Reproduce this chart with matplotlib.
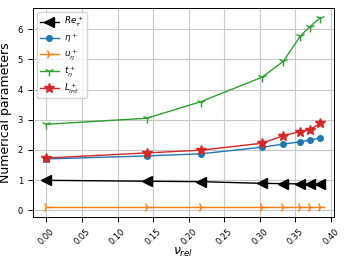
import matplotlib
matplotlib.use("Agg")
import matplotlib.pyplot as plt

nu_rel = [0.0, 0.141, 0.217, 0.303, 0.333, 0.357, 0.370, 0.385]
re_tau = [0.99, 0.96, 0.945, 0.89, 0.88, 0.87, 0.865, 0.86]
eta = [1.70, 1.80, 1.87, 2.09, 2.19, 2.27, 2.33, 2.39]
u_eta = [0.09, 0.09, 0.09, 0.09, 0.09, 0.09, 0.09, 0.09]
t_eta = [2.85, 3.05, 3.60, 4.41, 4.94, 5.78, 6.08, 6.39]
l_int = [1.73, 1.90, 1.99, 2.22, 2.47, 2.61, 2.67, 2.88]

fig = plt.figure(figsize=(3.49, 2.62), dpi=100)
ax = fig.add_axes([0.094, 0.172, 0.863, 0.797])

lw = 1.0
ax.plot(nu_rel, re_tau, marker='<', color='black', lw=lw, markersize=7, label=r'$Re_\tau^+$')
ax.plot(nu_rel, eta, marker='o', color='tab:blue', lw=lw, markersize=4, label=r'$\eta^+$')
ax.plot(nu_rel, u_eta, marker='4', color='tab:orange', lw=lw, markersize=7, label=r'$u_\eta^+$')
ax.plot(nu_rel, t_eta, marker='1', color='tab:green', lw=lw, markersize=7, label=r'$t_\eta^+$')
ax.plot(nu_rel, l_int, marker='*', color='tab:red', lw=lw, markersize=7, label=r'$L_{int}^+$')

ax.grid(True, color='#c8c8c8', lw=0.8)
for s in ax.spines.values():
    s.set_linewidth(0.7)
ax.set_xlabel(r'$\nu_{rel}$', fontsize=9, labelpad=0)
ax.set_ylabel('Numerical parameters', fontsize=9)
ax.tick_params(axis='both', labelsize=6, width=0.7)
plt.setp(ax.get_xticklabels(), rotation=45)
ax.legend(loc='upper left', fontsize=6.3, labelspacing=0.25, handlelength=2.2,
          borderpad=0.3, handletextpad=0.6)

fig.savefig('out.png', dpi=100)
